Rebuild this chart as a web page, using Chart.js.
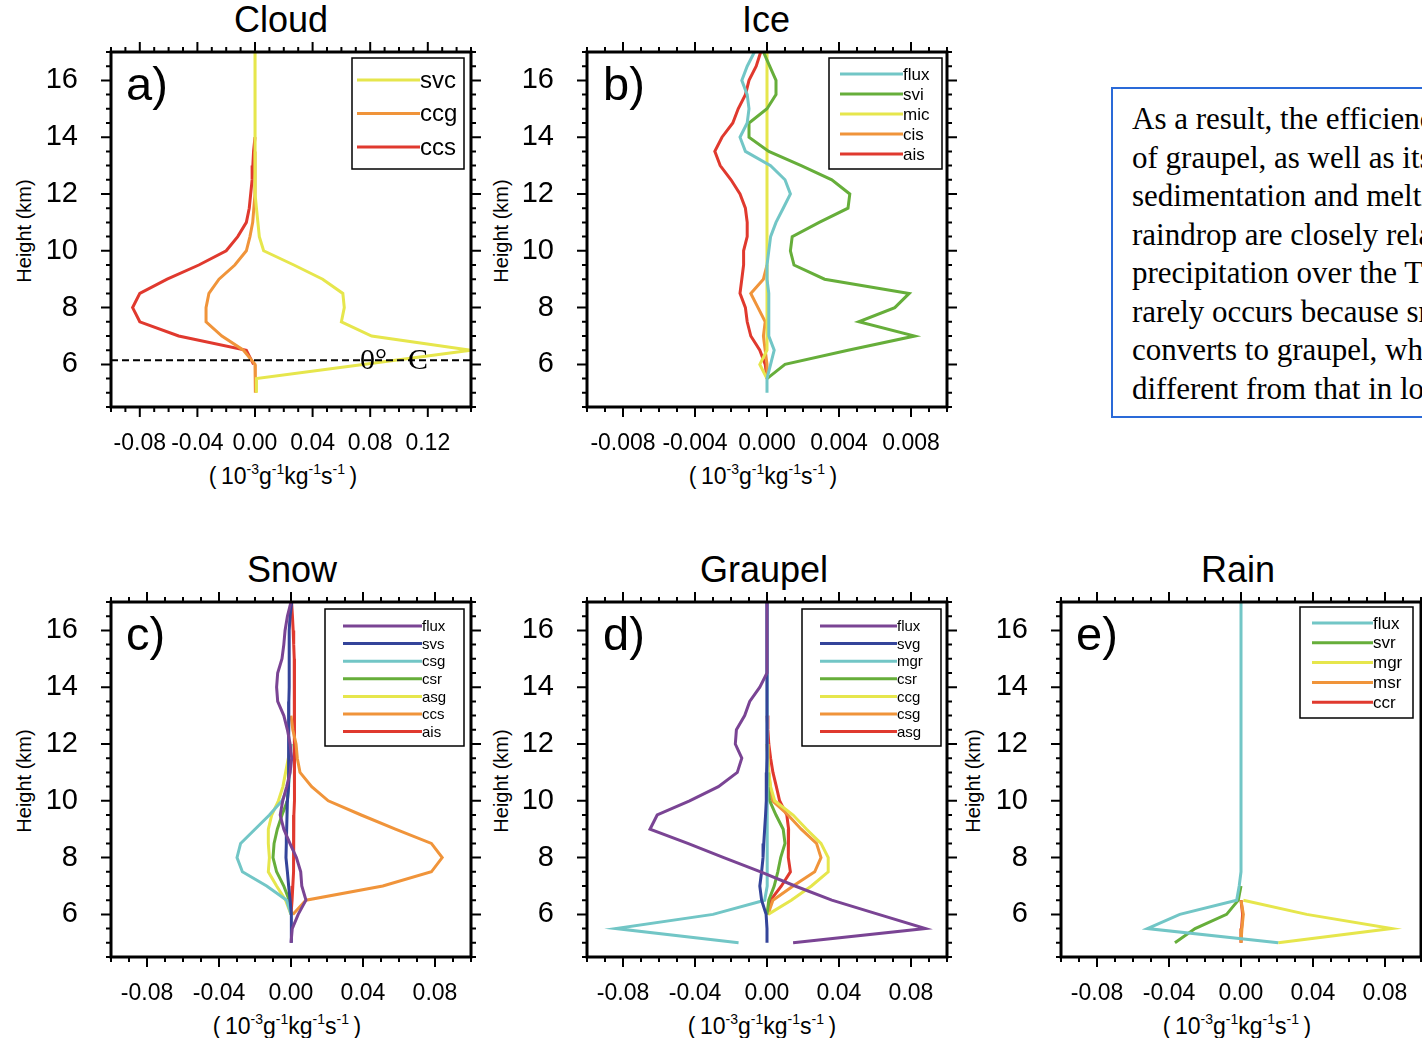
<!DOCTYPE html>
<html>
<head>
<meta charset="utf-8">
<script src="https://cdn.jsdelivr.net/npm/chart.js@4.4.1/dist/chart.umd.min.js"></script>
<style>
  html, body { margin: 0; padding: 0; background: #fff; }
  body { width: 1422px; height: 1038px; overflow: hidden; position: relative;
         font-family: "Liberation Sans", Arial, Helvetica, sans-serif; color: #000; }
  canvas { position: absolute; }
  .title { position: absolute; font-size: 36px; line-height: 1; white-space: nowrap; transform: translateX(-50%); }
  .unit { position: absolute; font-size: 23px; line-height: 1; white-space: nowrap; transform: translateX(-50%); }
  .unit sup { font-size: 14px; line-height: 0; vertical-align: 10px; }
  .ylab { position: absolute; font-size: 20px; line-height: 1; white-space: nowrap; transform: translate(-50%, -50%) rotate(-90deg); }
  .note { position: absolute; left: 1111px; top: 87px; width: 420px; height: 331px; box-sizing: border-box;
          border: 2px solid #2a6ad8; padding: 11px 0 0 19px;
          font-family: "Liberation Serif", "Times New Roman", serif; font-size: 31px; line-height: 38.5px; white-space: nowrap; }
</style>
</head>
<body>

<div class="title" style="left:281px; top:2px;">Cloud</div>
<div class="title" style="left:766px; top:2px;">Ice</div>
<div class="title" style="left:292px; top:552px;">Snow</div>
<div class="title" style="left:764px; top:552px;">Graupel</div>
<div class="title" style="left:1238px; top:552px;">Rain</div>

<div class="ylab" style="left:24px; top:231px;">Height (km)</div>
<div class="ylab" style="left:501px; top:231px;">Height (km)</div>
<div class="ylab" style="left:24px; top:781px;">Height (km)</div>
<div class="ylab" style="left:501px; top:781px;">Height (km)</div>
<div class="ylab" style="left:973px; top:781px;">Height (km)</div>

<div class="unit" style="left:283px; top:465px;">(&thinsp;10<sup>-3</sup>g<sup>-1</sup>kg<sup>-1</sup>s<sup>-1</sup>&thinsp;)</div>
<div class="unit" style="left:763px; top:465px;">(&thinsp;10<sup>-3</sup>g<sup>-1</sup>kg<sup>-1</sup>s<sup>-1</sup>&thinsp;)</div>
<div class="unit" style="left:287px; top:1015px;">(&thinsp;10<sup>-3</sup>g<sup>-1</sup>kg<sup>-1</sup>s<sup>-1</sup>&thinsp;)</div>
<div class="unit" style="left:762px; top:1015px;">(&thinsp;10<sup>-3</sup>g<sup>-1</sup>kg<sup>-1</sup>s<sup>-1</sup>&thinsp;)</div>
<div class="unit" style="left:1237px; top:1015px;">(&thinsp;10<sup>-3</sup>g<sup>-1</sup>kg<sup>-1</sup>s<sup>-1</sup>&thinsp;)</div>

<div class="note">
As a result, the efficiency<br>
of graupel, as well as its<br>
sedimentation and melting<br>
raindrop are closely related<br>
precipitation over the TP<br>
rarely occurs because snow<br>
converts to graupel, which<br>
different from that in low
</div>

<canvas id="cloud" width="490" height="470" style="left:1px; top:0px;"></canvas>
<canvas id="ice" width="490" height="470" style="left:477px; top:0px;"></canvas>
<canvas id="snow" width="490" height="470" style="left:1px; top:550px;"></canvas>
<canvas id="graupel" width="490" height="470" style="left:477px; top:550px;"></canvas>
<canvas id="rain" width="490" height="470" style="left:951px; top:550px;"></canvas>

<script>
/* ---------- tick labels ---------- */
const yMajor = [6, 8, 10, 12, 14, 16];
const xMajorCloud = [-0.08, -0.04, 0, 0.04, 0.08, 0.12];
const xMajorIce = [-0.008, -0.004, 0, 0.004, 0.008];
const xMajorWide = [-0.08, -0.04, 0, 0.04, 0.08];
const freezingLevel = 6.15;

/* ---------- heights (km) ---------- */
const hAll   = [17, 16.5, 16, 15.5, 15, 14.5, 14, 13.5, 13, 12.5, 12, 11.5, 11, 10.5, 10, 9.5, 9, 8.5, 8, 7.5, 7, 6.5, 6, 5.5, 5];
const hTo55  = [17, 16.5, 16, 15.5, 15, 14.5, 14, 13.5, 13, 12.5, 12, 11.5, 11, 10.5, 10, 9.5, 9, 8.5, 8, 7.5, 7, 6.5, 6, 5.5];
const hTo6   = [17, 16.5, 16, 15.5, 15, 14.5, 14, 13.5, 13, 12.5, 12, 11.5, 11, 10.5, 10, 9.5, 9, 8.5, 8, 7.5, 7, 6.5, 6];
const h14    = [14, 13.5, 13, 12.5, 12, 11.5, 11, 10.5, 10, 9.5, 9, 8.5, 8, 7.5, 7, 6.5, 6];
const h135   = [13.5, 13, 12.5, 12, 11.5, 11, 10.5, 10, 9.5, 9, 8.5, 8, 7.5, 7, 6.5, 6, 5.5, 5];
const h13    = [13, 12.5, 12, 11.5, 11, 10.5, 10, 9.5, 9, 8.5, 8, 7.5, 7, 6.5, 6];
const h12    = [12, 11.5, 11, 10.5, 10, 9.5, 9, 8.5, 8, 7.5, 7, 6.5, 6];
const h11    = [11, 10.5, 10, 9.5, 9, 8.5, 8, 7.5, 7, 6.5, 6];
const h95    = [9.5, 9, 8.5, 8, 7.5, 7, 6.5, 6, 5.5];
const h7     = [7, 6.5, 6, 5.5, 5];
const h65    = [6.5, 6, 5.5, 5];

/* ---------- a) Cloud ---------- */
const cloudSvc = [0, 0, 0, 0, 0, 0, 0, 0, 0, 0, 0.0005, 0.001, 0.002, 0.003, 0.006, 0.027, 0.047, 0.061, 0.062, 0.060, 0.081, 0.150, 0.075, 0.001, 0.001];
const cloudCcg = [0, 0, 0, 0, -0.0008, -0.0016, -0.0035, -0.006, -0.014, -0.025, -0.032, -0.034, -0.034, -0.023, -0.008, 0, 0.0005, 0];
const cloudCcs = [0, -0.001, -0.0015, -0.002, -0.003, -0.004, -0.006, -0.012, -0.020, -0.039, -0.061, -0.080, -0.085, -0.080, -0.053, -0.006, -0.001];

/* ---------- b) Ice ---------- */
const iceFlux = [-0.0007, -0.0011, -0.0014, -0.0011, -0.001, -0.0011, -0.0015, -0.0012, 0.0002, 0.001, 0.0013, 0.0009, 0.0005, 0.0002, 0.0001, 0, 0, 0.0001, 0.0001, 0.0001, 0.0001, 0.0004, 0.0002, 0, 0];
const iceSvi  = [-0.0002, 0.00015, 0.0005, 0.0005, 0, -0.001, -0.001, 0.0001, 0.0019, 0.0036, 0.0046, 0.0045, 0.0029, 0.0014, 0.0013, 0.0015, 0.0032, 0.0079, 0.0071, 0.0051, 0.0082, 0.0045, 0.001, 0];
const iceMic  = [0, 0, 0, 0, 0, 0, 0, 0, 0, 0, 0, 0, 0, 0, 0, 0, 0, 0, 0, 0, 0, 0, -0.0004, 0];
const iceCis  = [0, -0.0002, -0.0009, -0.0005, -0.0001, -0.0002, -0.0001, 0, 0];
const iceAis  = [-0.00035, -0.0006, -0.001, -0.0012, -0.0016, -0.0019, -0.0025, -0.0029, -0.0026, -0.002, -0.0015, -0.0012, -0.0011, -0.0011, -0.0013, -0.0013, -0.0014, -0.0015, -0.0012, -0.0011, -0.0009, -0.0004, -0.0001, 0];

/* ---------- c) Snow ---------- */
const snowFlux = [0, -0.002, -0.0033, -0.004, -0.005, -0.0074, -0.008, -0.0074, -0.004, -0.002, -0.0005, 0.0004, -0.0005, -0.0024, -0.0046, -0.006, -0.004, -0.0006, 0.003, 0.0054, 0.006, 0.0083, 0.004, 0.0007, 0];
const snowSvs  = [0.0004, -0.0005, -0.001, -0.001, -0.001, -0.001, -0.001, -0.0012, -0.0012, -0.0012, -0.0012, -0.0014, -0.0014, -0.0016, -0.002, -0.0022, -0.0024, -0.0026, -0.0028, -0.002, -0.0013, -0.0005, 0.0002, 0.0004, 0];
const snowCsg  = [0, -0.0005, -0.0006, -0.0015, -0.005, -0.012, -0.020, -0.028, -0.030, -0.027, -0.0135, -0.0024, 0];
const snowCsr  = [0, -0.0005, -0.001, -0.0015, -0.002, -0.005, -0.0076, -0.0094, -0.010, -0.008, -0.004, -0.001, 0];
const snowAsg  = [0, -0.0015, -0.003, -0.0045, -0.007, -0.0107, -0.0126, -0.0126, -0.012, -0.0126, -0.008, -0.003, 0];
const snowCcs  = [0, 0.001, 0.0028, 0.0035, 0.005, 0.0115, 0.0207, 0.039, 0.058, 0.078, 0.084, 0.078, 0.051, 0.0083, 0.001];
const snowAis  = [0.0003, 0.0008, 0.0012, 0.0015, 0.0018, 0.002, 0.0022, 0.0022, 0.002, 0.002, 0.0019, 0.0018, 0.0018, 0.0017, 0.0017, 0.0016, 0.0016, 0.0015, 0.0014, 0.0012, 0.001, 0.0006, 0];

/* ---------- d) Graupel ---------- */
const graupelFlux = [0, 0, 0, 0, 0, 0, -0.004, -0.0096, -0.0124, -0.017, -0.0176, -0.014, -0.0165, -0.027, -0.043, -0.061, -0.065, -0.044, -0.024, -0.0035, 0.0156, 0.036, 0.062, 0.088, 0.0145];
const graupelSvg  = [0, 0, 0, 0, 0, 0, 0, 0, 0, 0, 0, 0, -0.0002, -0.0003, -0.0005, -0.0008, -0.0013, -0.0018, -0.0022, -0.003, -0.004, -0.003, -0.0005, 0, 0];
const graupelMgr  = [0, 0, 0, 0, 0, 0, 0, 0, 0, 0, 0, 0, 0, 0, 0, 0, 0.0003, 0.0005, 0.0005, 0.0005, 0.0005, -0.0013, -0.030, -0.084, -0.0158];
const graupelCsr  = [0, 0.0005, 0.0015, 0.005, 0.009, 0.010, 0.0076, 0.006, 0.004, 0.001, 0];
const graupelCcg  = [0, 0.0005, 0.001, 0.002, 0.0043, 0.0145, 0.022, 0.030, 0.034, 0.034, 0.0247, 0.0135, 0.0006];
const graupelCsg  = [0, 0.0005, 0.001, 0.0018, 0.003, 0.0117, 0.019, 0.0275, 0.030, 0.0265, 0.0145, 0.0033, 0.0005];
const graupelAsg  = [0, 0.0005, 0.001, 0.002, 0.0033, 0.0052, 0.007, 0.011, 0.012, 0.0117, 0.012, 0.013, 0.008, 0.002, 0];

/* ---------- e) Rain ---------- */
const rainFlux = [0, 0, 0, 0, 0, 0, 0, 0, 0, 0, 0, 0, 0, 0, 0, 0, 0, 0, 0, 0, -0.001, -0.0024, -0.034, -0.052, 0.0207];
const rainSvr  = [0, -0.0015, -0.008, -0.0255, -0.0367];
const rainMgr  = [0.0013, 0.0365, 0.0837, 0.0207];
const rainMsr  = [0, 0.0013, 0.0005, 0];
const rainCcr  = [0, 0.0009, 0.0003, 0];

const COL = {
    yellow: '#e6e64c', orange: '#f0943a', red: '#e0392e', cyan: '#72c6c6',
    green: '#66ae3a', purple: '#7a4494', navy: '#34449a'
};
const FONT = '"Liberation Sans", Arial, Helvetica, sans-serif';

// frame, outward ticks, panel letter, legend box
const framePlugin = {
    id: 'frame',
    afterDatasetsDraw(chart) {
        const cfg = chart.options.plugins.frame;
        const ctx = chart.ctx;
        const { left, right, top, bottom } = chart.chartArea;
        const xs = chart.scales.x, ys = chart.scales.y;
        ctx.save();

        // 0 C line (Cloud only)
        if (cfg.freezing !== undefined) {
            const py = ys.getPixelForValue(cfg.freezing);
            ctx.strokeStyle = '#000';
            ctx.lineWidth = 2;
            ctx.setLineDash([7, 4]);
            ctx.beginPath(); ctx.moveTo(left, py); ctx.lineTo(right, py); ctx.stroke();
            ctx.setLineDash([]);
            ctx.fillStyle = '#000';
            ctx.font = '30px "Liberation Serif", "Times New Roman", serif';
            ctx.textBaseline = 'middle';
            ctx.textAlign = 'left';
            ctx.fillText('0°', left + 249, py + 1);
            ctx.fillText('C', left + 297, py + 1);
        }

        // box
        ctx.strokeStyle = '#000';
        ctx.lineWidth = 3;
        ctx.strokeRect(left, top, right - left, bottom - top);

        // ticks
        ctx.lineWidth = 2;
        ctx.beginPath();
        const nx = Math.round((xs.max - xs.min) / cfg.xMinor);
        for (let i = 0; i <= nx; i++) {
            const v = xs.min + i * cfg.xMinor;
            const major = cfg.xMajor.some(m => Math.abs(m - v) < cfg.xMinor / 10);
            const len = major ? 10 : 5;
            const px = xs.getPixelForValue(v);
            ctx.moveTo(px, bottom); ctx.lineTo(px, bottom + len);
            ctx.moveTo(px, top); ctx.lineTo(px, top - len);
        }
        const ny = Math.round((ys.max - ys.min) / 0.5);
        for (let i = 0; i <= ny; i++) {
            const v = ys.min + i * 0.5;
            const major = yMajor.includes(v);
            const len = major ? 10 : 5;
            const py = ys.getPixelForValue(v);
            ctx.moveTo(left, py); ctx.lineTo(left - len, py);
            ctx.moveTo(right, py); ctx.lineTo(right + len, py);
        }
        ctx.stroke();

        // panel letter
        ctx.fillStyle = '#000';
        ctx.font = '47px ' + FONT;
        ctx.textAlign = 'left';
        ctx.textBaseline = 'alphabetic';
        ctx.fillText(cfg.letter, left + cfg.letterDx, top + 48);

        // legend
        const lg = cfg.legend;
        ctx.lineWidth = 1.5;
        ctx.strokeStyle = '#000';
        ctx.strokeRect(left + lg.box[0], top + lg.box[1], lg.box[2], lg.box[3]);
        ctx.font = lg.size + 'px ' + FONT;
        ctx.textBaseline = 'middle';
        chart.data.datasets.forEach((ds, i) => {
            const y = top + lg.row0 + i * lg.step;
            ctx.strokeStyle = ds.borderColor;
            ctx.lineWidth = 3;
            ctx.beginPath();
            ctx.moveTo(left + lg.x0, y); ctx.lineTo(left + lg.x1, y);
            ctx.stroke();
            ctx.fillStyle = '#000';
            ctx.fillText(ds.label, left + lg.x1, y + 1);
        });
        ctx.restore();
    }
};

function makePanel(id, p) {
    const datasets = p.series.map(s => ({
        label: s.label,
        data: s.h.map((h, i) => ({ x: s.v[i], y: h })),
        showLine: true,
        borderColor: s.color,
        backgroundColor: s.color,
        borderWidth: 3,
        pointRadius: 0,
        tension: 0
    }));
    return new Chart(document.getElementById(id), {
        type: 'scatter',
        data: { datasets },
        options: {
            responsive: false,
            animation: false,
            events: [],
            layout: { padding: { top: 52, right: 20, left: 0, bottom: 0 } },
            plugins: {
                legend: { display: false },
                tooltip: { enabled: false },
                frame: { letter: p.letter, letterDx: p.letterDx, xMinor: p.xMinor, xMajor: p.xMajor,
                         legend: p.legend, freezing: p.freezing }
            },
            scales: {
                x: {
                    type: 'linear', min: p.xMin, max: p.xMax,
                    grid: { display: false, drawTicks: false }, border: { display: false },
                    afterBuildTicks: s => { s.ticks = p.xMajor.map(v => ({ value: v })); },
                    afterFit: s => { s.height = 63; },
                    ticks: { autoSkip: false, maxRotation: 0, padding: 23, color: '#000',
                             font: { family: FONT, size: 23 },
                             callback: v => Number(v).toFixed(p.dec) }
                },
                y: {
                    type: 'linear', min: 4.5, max: 17,
                    grid: { display: false, drawTicks: false }, border: { display: false },
                    afterBuildTicks: s => { s.ticks = yMajor.map(v => ({ value: v })); },
                    afterFit: s => { s.width = 110; },
                    ticks: { autoSkip: false, padding: 33, color: '#000',
                             font: { family: FONT, size: 29 } }
                }
            }
        },
        plugins: [framePlugin]
    });
}

makePanel('cloud', {
    letter: 'a)', letterDx: 15, xMin: -0.1, xMax: 0.15, xMinor: 0.01, xMajor: xMajorCloud, dec: 2,
    freezing: freezingLevel,
    legend: { box: [241, 6, 112, 111], x0: 246, x1: 309, row0: 28, step: 33.5, size: 24 },
    series: [
        { label: 'svc', color: COL.yellow, h: hAll, v: cloudSvc },
        { label: 'ccg', color: COL.orange, h: h135, v: cloudCcg },
        { label: 'ccs', color: COL.red,    h: h14,  v: cloudCcs }
    ]
});

makePanel('ice', {
    letter: 'b)', letterDx: 16, xMin: -0.01, xMax: 0.01, xMinor: 0.001, xMajor: xMajorIce, dec: 3,
    legend: { box: [242, 6, 113, 111], x0: 253, x1: 316, row0: 22, step: 20, size: 17 },
    series: [
        { label: 'flux', color: COL.cyan,   h: hAll,  v: iceFlux },
        { label: 'svi',  color: COL.green,  h: hTo55, v: iceSvi },
        { label: 'mic',  color: COL.yellow, h: hTo55, v: iceMic },
        { label: 'cis',  color: COL.orange, h: h95,   v: iceCis },
        { label: 'ais',  color: COL.red,    h: hTo55, v: iceAis }
    ]
});

makePanel('snow', {
    letter: 'c)', letterDx: 15, xMin: -0.1, xMax: 0.1, xMinor: 0.01, xMajor: xMajorWide, dec: 2,
    legend: { box: [214, 7, 139, 137], x0: 232, x1: 311, row0: 24, step: 17.6, size: 15 },
    series: [
        { label: 'flux', color: COL.purple, h: hAll, v: snowFlux },
        { label: 'svs',  color: COL.navy,   h: hAll, v: snowSvs },
        { label: 'csg',  color: COL.cyan,   h: h12,  v: snowCsg },
        { label: 'csr',  color: COL.green,  h: h12,  v: snowCsr },
        { label: 'asg',  color: COL.yellow, h: h12,  v: snowAsg },
        { label: 'ccs',  color: COL.orange, h: h13,  v: snowCcs },
        { label: 'ais',  color: COL.red,    h: hTo6, v: snowAis }
    ]
});

makePanel('graupel', {
    letter: 'd)', letterDx: 16, xMin: -0.1, xMax: 0.1, xMinor: 0.01, xMajor: xMajorWide, dec: 2,
    legend: { box: [215, 7, 139, 137], x0: 233, x1: 310, row0: 24, step: 17.6, size: 15 },
    series: [
        { label: 'flux', color: COL.purple, h: hAll, v: graupelFlux },
        { label: 'svg',  color: COL.navy,   h: hAll, v: graupelSvg },
        { label: 'mgr',  color: COL.cyan,   h: hAll, v: graupelMgr },
        { label: 'csr',  color: COL.green,  h: h11,  v: graupelCsr },
        { label: 'ccg',  color: COL.yellow, h: h12,  v: graupelCcg },
        { label: 'csg',  color: COL.orange, h: h12,  v: graupelCsg },
        { label: 'asg',  color: COL.red,    h: h13,  v: graupelAsg }
    ]
});

makePanel('rain', {
    letter: 'e)', letterDx: 15, xMin: -0.1, xMax: 0.1, xMinor: 0.01, xMajor: xMajorWide, dec: 2,
    legend: { box: [239, 5, 113, 111], x0: 251, x1: 312, row0: 21, step: 19.8, size: 17 },
    series: [
        { label: 'flux', color: COL.cyan,   h: hAll, v: rainFlux },
        { label: 'svr',  color: COL.green,  h: h7,   v: rainSvr },
        { label: 'mgr',  color: COL.yellow, h: h65,  v: rainMgr },
        { label: 'msr',  color: COL.orange, h: h65,  v: rainMsr },
        { label: 'ccr',  color: COL.red,    h: h65,  v: rainCcr }
    ]
});
</script>
</body>
</html>
